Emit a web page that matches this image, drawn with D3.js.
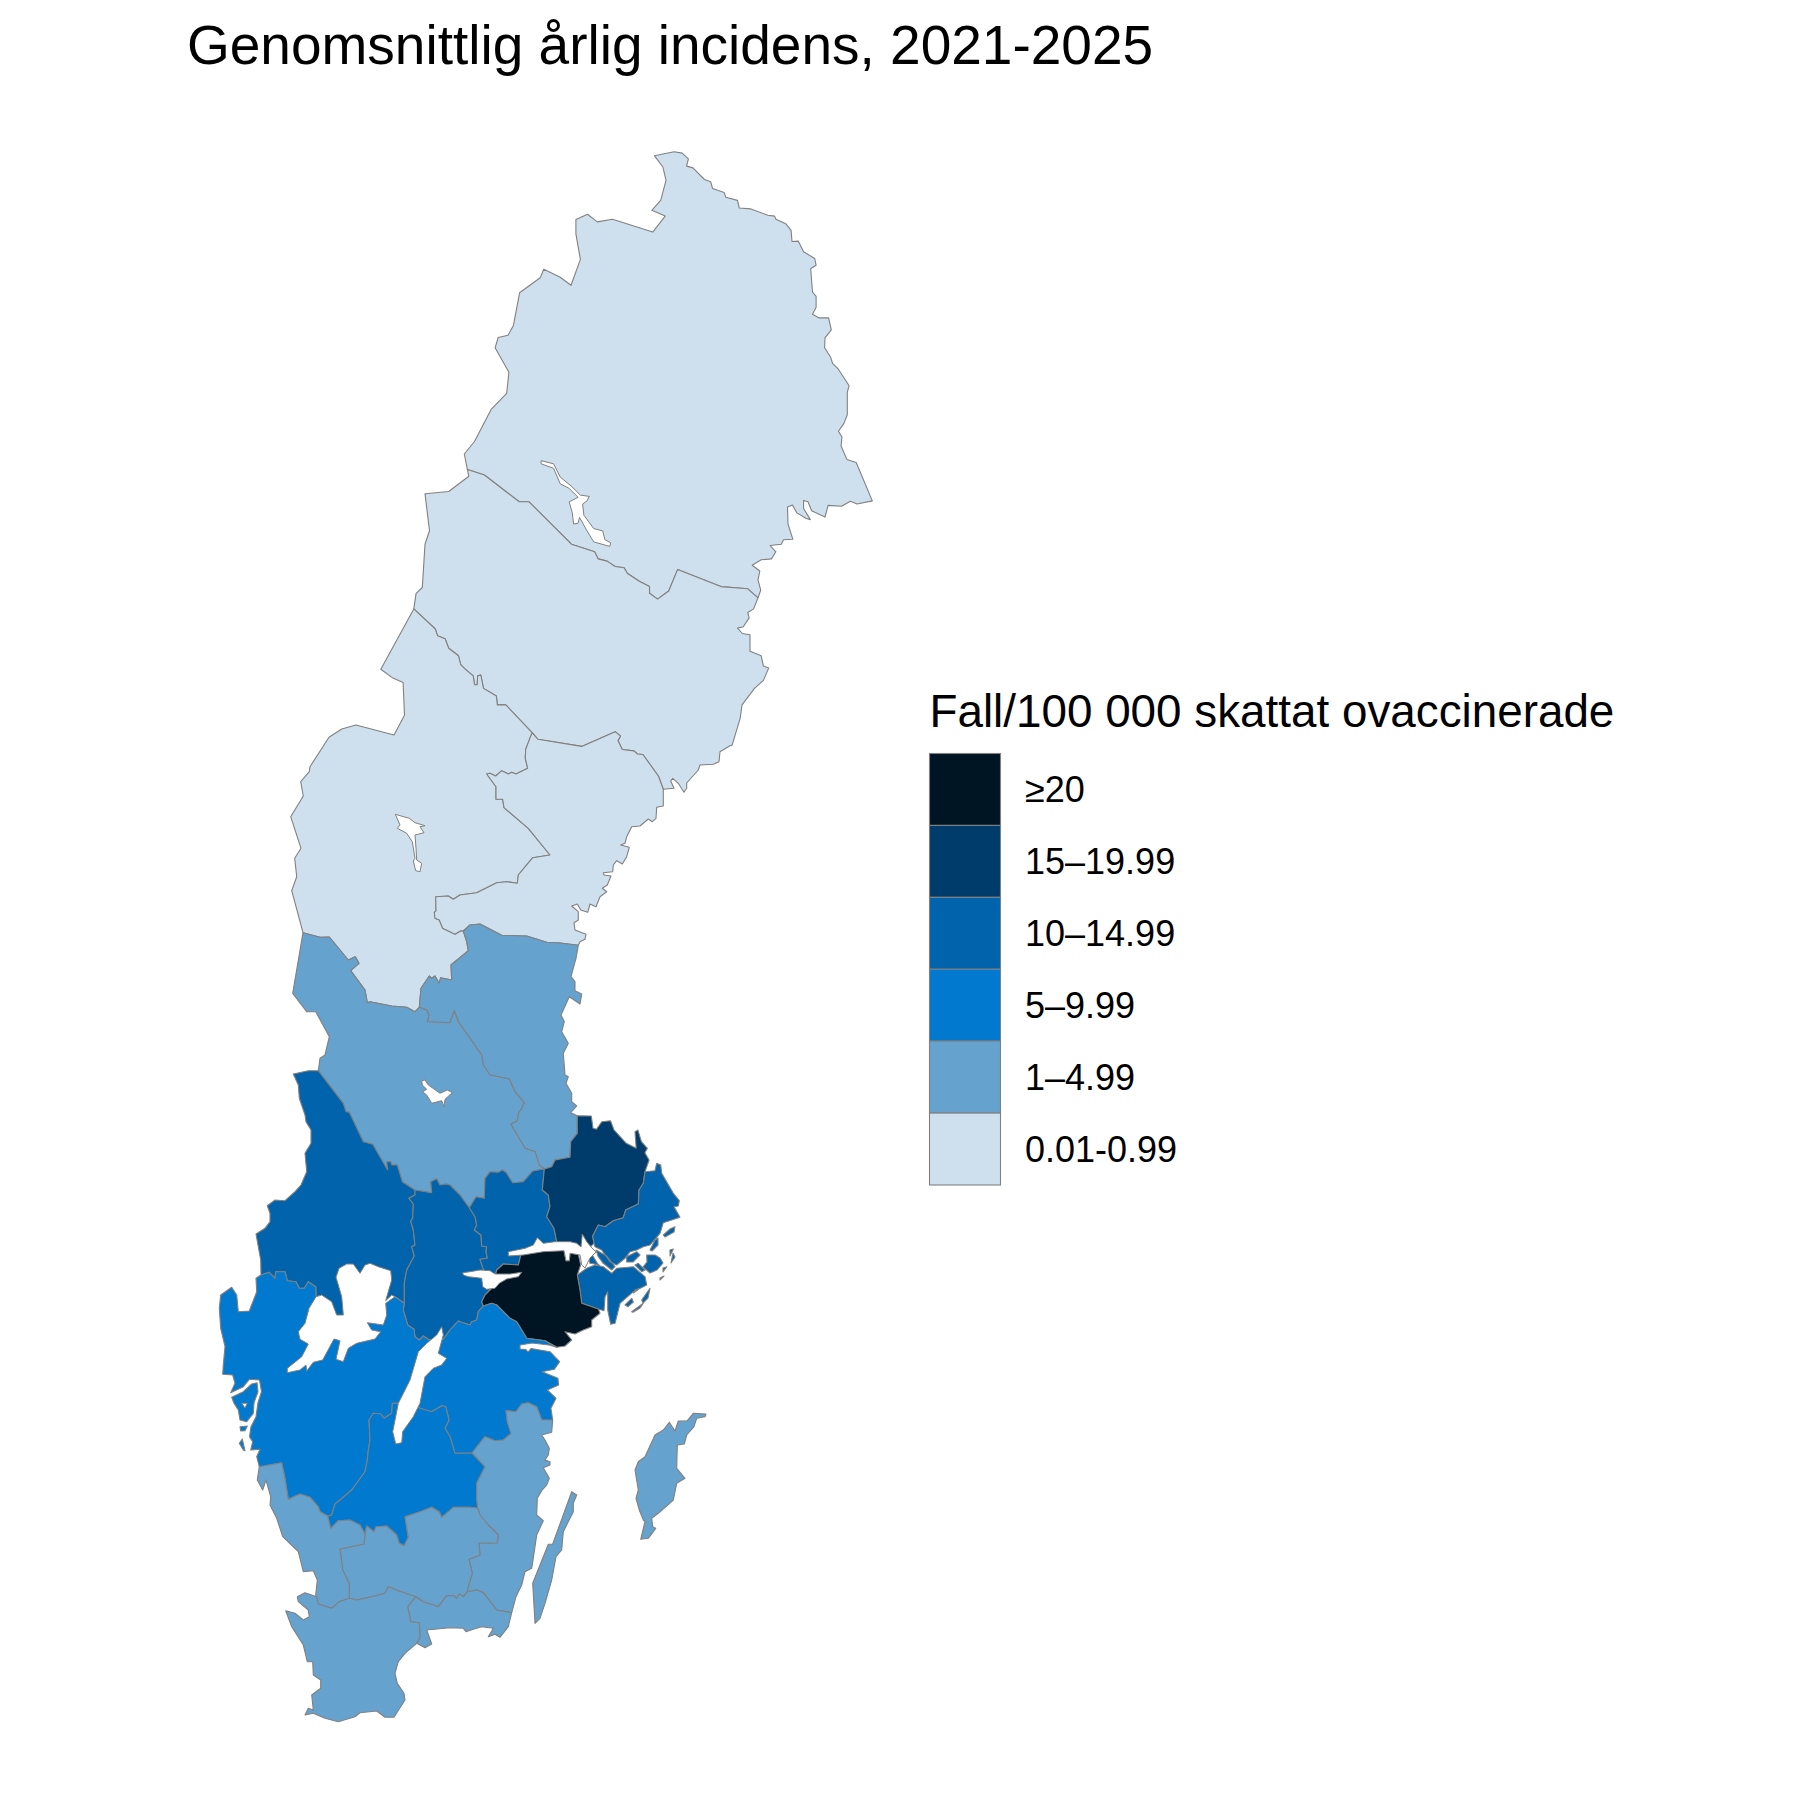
<!DOCTYPE html>
<html lang="sv">
<head>
<meta charset="utf-8">
<title>Genomsnittlig årlig incidens, 2021-2025</title>
<script src="https://cdnjs.cloudflare.com/ajax/libs/d3/7.8.5/d3.min.js"></script>
<style>
html,body{margin:0;padding:0;background:#fff}
svg{display:block}
text{font-family:"Liberation Sans",Arial,sans-serif;fill:#000}
</style>
</head>
<body>
<svg id="chart" width="1800" height="1800" viewBox="0 0 1800 1800"></svg>
<script>
// ---------- values ----------
const chartTitle = "Genomsnittlig årlig incidens, 2021-2025";
const legendTitle = "Fall/100 000 skattat ovaccinerade";
const bandLabels = ["≥20","15–19.99","10–14.99","5–9.99","1–4.99","0.01-0.99"];
const bandColours = ["#001524","#003C6B","#0063AB","#0079CF","#65A2CD","#CEE0EE"];
const regionNames = ["Norrbotten","Västerbotten","Jämtland","Västernorrland","Gävleborg","Dalarna","Värmland","Örebro","Västmanland","Uppsala","Stockholm","Södermanland","Östergötland","Västra Götaland","Jönköping","Kalmar","Kronoberg","Halland","Blekinge","Skåne","Gotland"];
const regionBands = ["0.01-0.99","0.01-0.99","0.01-0.99","0.01-0.99","1–4.99","1–4.99","10–14.99","10–14.99","10–14.99","15–19.99","10–14.99","≥20","5–9.99","5–9.99","5–9.99","1–4.99","1–4.99","1–4.99","1–4.99","1–4.99","1–4.99"];

// ---------- digitised map outlines (map units, y grows southward) ----------
const coastNorrEast = [[654.5,155.8],[674.1,151.8],[682.1,153.1],[688.4,158.9],[686.6,166.1],[692.9,167.9],[704.5,179.5],[710.7,181.7],[712.5,188.4],[724.1,192.4],[725.9,197.3],[737.5,200.4],[739.3,208],[750.9,208.9],[767.9,215.2],[774.6,216.1],[775.9,219.2],[785.7,223.7],[791.1,230.4],[792,241.5],[798.2,241.1],[803.6,251.8],[814.7,258.5],[816.1,265.2],[810.7,268.8],[812.5,292],[816.1,296.4],[816.1,307.6],[812.5,314.3],[819.2,317.9],[828.6,317.9],[831.3,329.9],[825,337.9],[824.6,347.8],[830.4,356.7],[832.6,363.4],[838.4,369.2],[849.1,385.7],[847.3,392.4],[847.3,414.7],[843.8,423.6],[838.4,431.2],[842,437],[841.1,446],[846.9,459.4],[856.2,462.5],[872.3,500.9],[857.1,504],[850.4,501.3],[841.5,506.3],[828.1,505.4],[825,517],[811.6,510.7],[808,501.8],[803.6,500.4],[803.6,508.5],[810.3,519.6],[805.8,518.3],[796.9,512.9],[792.4,504.9],[787.5,507.1],[788,524.1],[792.9,539.3],[783.5,539.7],[781.3,544.2],[770.1,545.5],[775.9,551.8],[771.4,558.9],[761.2,559.8],[752.2,565.2],[759.8,571],[758,579.9],[760.7,590.2],[758,597.8]];
const borderNbVb = [[758,597.8],[747.8,588.8],[720.9,586.6],[677.6,569.6],[668.7,591],[657.6,599.1],[649.5,593.3],[649.5,586.6],[639.3,581.2],[627.2,573.2],[624.1,567.8],[615.2,566.5],[607.1,561.1],[598.2,558.9],[594.6,551.8],[571.4,544.2],[529,501.8],[519.2,501.8],[484.4,475],[467.4,469.6]];
const westNb = [[467.4,469.6],[464.3,454],[474.5,441.5],[491.1,409.4],[506.7,393.3],[508.9,372.3],[495.1,347.8],[498.2,337.5],[508,335.3],[513.4,325.4],[519.6,292.8],[540.2,277.7],[543.8,269.2],[560.3,277.2],[571,285.3],[580.4,259.4],[575.9,233.9],[575.9,219.6],[587.5,214.3],[597.3,221.9],[612.5,219.2],[652.7,232.1],[665.2,216.1],[651.8,210.3],[660.7,200.4],[666,180.4],[662.9,167],[654.5,155.8]];
const westVb = [[467.4,469.6],[468.8,476.3],[448.7,491.5],[425,493.8],[429.5,530.8],[425,544.2],[422.3,587.5],[416.1,593.3],[413.8,608.9]];
const borderVbJl = [[413.8,608.9],[435.3,629],[437.5,635.7],[445.1,638.8],[448.7,648.2],[458.5,655.8],[460.7,664.7],[465.2,669.2],[473.2,675.9],[474.6,684.8],[477.2,684.8],[477.7,675.9],[480.8,675],[483.5,688.4],[496.4,696],[497.3,704.9],[505.8,704.9],[532.1,732.6]];
const borderVbVn = [[532.1,732.6],[538,739.3],[581.7,746.4],[615.2,731.7],[620.5,736.2],[617.9,740.6],[622.3,749.5],[633.9,750.9],[637.5,754],[642.9,754.5],[658.5,776.3],[663.3,789.3]];
const coastVb = [[663.3,789.3],[674,788.3],[670.7,781],[672.7,778.3],[678.3,783.3],[684,792.3],[686.7,788.3],[686.7,783],[698.3,770],[700,765],[713.3,764.3],[719,761.7],[720,751.7],[730,745.7],[732.1,745.1],[740.2,718.3],[742,704.9],[754.5,688.4],[763.4,680.4],[768.8,667.9],[763.4,666.1],[761.2,655.8],[750,651.3],[750,634.8],[742.4,633.5],[737.5,628.1],[743.3,626.8],[749.1,617.9],[747.8,612.5],[753.6,608.9],[758,597.8]];
const westJl = [[413.8,608.9],[380.8,669.2],[392.9,678.1],[403.1,682.6],[404.5,715.2],[394,735],[356,725],[341.7,729],[329,737.3],[310,766.7],[309.3,771.7],[300.7,781.7],[303.3,796],[290.7,816.7],[301,848.3],[294.7,858.3],[296.7,876.7],[291.7,890.7],[303,932.7]];
const borderJlDa = [[303,932.7],[320,937.3],[329.3,937],[348.3,960],[355.3,956.7],[359,963.3],[350.7,970.7],[365,990],[367.3,1002.7],[370,1001.7],[391.7,1006],[406.7,1007.3],[415,1011.7],[419.3,1007.3]];
const borderJlGb = [[419.3,1007.3],[421,988.3],[429.3,976],[431.7,978.3],[435,976],[439,983.3],[440.7,977.7],[451.7,980],[451,965],[468.3,950.7],[466.7,941.7],[463.3,931]];
const borderJlVn = [[532.1,732.6],[525.7,749.3],[525.3,758.3],[527.7,768.3],[516,774],[511.7,772.3],[508.3,774],[501.7,770.7],[495.7,776],[490,773.3],[486.7,774],[496,786.7],[496,799.3],[502.7,799.3],[504,807.7],[528.3,828.3],[550,855],[532.7,857.7],[518.3,875],[517.3,883.3],[506.7,881.7],[496.7,882.7],[476.7,892.7],[460,895],[453.3,899.3],[448.3,896],[435.7,896.7],[436,910.7],[434.3,912.3],[435,918.3],[439.3,920],[442.7,928.3],[455,934.3],[460.7,930.7],[463.3,931]];
const coastVn = [[663.3,789.3],[663.3,806],[656.7,807.3],[656,818.3],[652.3,821.7],[648.3,819],[640,826],[631.7,826.7],[626.7,836.7],[625,843.3],[620.7,845],[629.3,847.3],[626.7,856.7],[622.3,864],[616.7,860.7],[613.3,865],[612.7,871.7],[603.3,872.7],[604,875],[611,876],[607.3,885],[602.3,888.3],[606.7,891.7],[600,896.7],[596,906.7],[590,904],[587.7,912.3],[580.7,910],[577.3,904],[571.7,906],[578.3,911.7],[578.3,920],[574,922.7],[575,930],[586,934.3],[585,939.3],[580,941.7],[578.3,945.3]];
const borderVnGb = [[463.3,931],[470,925],[480,924],[501.7,935.3],[526.7,936],[546.7,942.3],[558.3,942.7],[578.3,945.3]];
const coastGb = [[578.3,945.3],[576,958.3],[571,976.7],[575,981.7],[575,990.7],[581.7,994],[580,1004],[569.3,996.7],[561,1015],[564.3,1021.7],[561.7,1031.7],[568.3,1043.3],[563.3,1053.3],[565,1075],[568.3,1076.7],[566,1083.3],[571.7,1093.3],[571.7,1101.7],[576.7,1106],[570.7,1112.7],[577.3,1115.7]];
const borderGbUp = [[577.3,1115.7],[577.3,1133.3],[570.7,1141.7],[570,1157.3],[555,1160],[551.7,1166.7],[544.3,1169]];
const borderDaGb = [[419.3,1007.3],[426.7,1010],[429,1015],[427.3,1021.7],[450,1022.7],[454.3,1010.7],[458.3,1021.7],[481.7,1055],[483.3,1065],[490,1075],[509.3,1079],[515,1091.7],[524,1102.7],[521.7,1108.3],[518.3,1113.3],[517.3,1120.7],[510.7,1124],[525,1148.3],[535,1151.7],[539.3,1165],[544.3,1169]];
const westDa = [[303,932.7],[292.7,993.3],[306.7,1011.7],[315.7,1011.7],[329.3,1036.7],[325,1055],[320,1058.3],[318.3,1070.7]];
const borderDaVa = [[318.3,1070.7],[343.3,1103.3],[346,1111.7],[349.3,1112.3],[363.3,1141.7],[372.7,1144.3],[387.7,1170],[386.7,1161.7],[390.7,1161.7],[391.7,1165],[397.3,1165],[402.3,1181.7],[415,1190]];
const borderDaOr = [[415,1190],[431.7,1192.7],[430.7,1181.7],[436.7,1178.7],[440,1185],[446,1184],[450,1185],[460,1195],[469.3,1207.7]];
const borderDaVs = [[469.3,1207.7],[476,1196.7],[484.3,1198.3],[485,1178.3],[490,1171.7],[498.3,1172.3],[502.3,1170],[506,1172.3],[512.7,1182.7],[523.3,1181.7],[532.7,1171],[544.3,1169]];
const westVa = [[318.3,1070.7],[308.3,1070.7],[293.3,1074],[298.3,1085],[299.3,1098.3],[305,1115],[306,1121.7],[311,1130],[311,1143.3],[305,1153.3],[306.7,1171.7],[301,1185],[295,1191.7],[285,1200.7],[275,1200],[267.3,1205.7],[270,1213.3],[270,1221.7],[265,1228.3],[256,1234],[260.7,1260],[261,1275]];
const borderVaVg = [[261,1275],[269.3,1272.3],[275,1278.3],[275.7,1271.7],[285,1271.7],[287.3,1280.7],[296,1281.7],[299.3,1288.3],[304.3,1288.3],[308.3,1281.7],[315.7,1286.7],[316,1296.7],[325,1310],[340,1320],[370,1310],[388,1300],[395,1296.7],[404.3,1303.3]];
const borderVaOr = [[415,1190],[415,1195],[409,1198.3],[413.3,1204],[412.7,1218.3],[410.7,1221],[413.3,1230],[415,1245],[411.7,1246.7],[414.3,1256],[406.7,1270],[404.3,1283.3],[404.3,1303.3]];
const borderOrVs = [[469.3,1207.7],[475,1216.7],[476.7,1225],[474.3,1230],[481,1235],[481.7,1246],[486.7,1246.7],[486,1251.7],[487.3,1258.3],[480,1259.3],[483.3,1269.3],[490,1280]];
const borderOrSo = [[490,1280],[491,1289],[485,1295],[481.7,1301.7],[483.3,1306]];
const borderOrVg = [[404.3,1303.3],[403.3,1310],[407.7,1325],[414,1329.3],[415,1336.7],[419.3,1340],[423.3,1336],[428.3,1339.3],[431,1340]];
const borderOrOs = [[431,1340],[443.3,1339.3],[450,1330],[458.3,1321],[460,1321.7],[470,1325],[471.7,1321.7],[476.7,1320],[478.3,1311.7],[483.3,1306]];
const borderVgOs = [[431,1340],[420,1370],[410,1400]];
const borderVgJk = [[410,1400],[398.3,1403.3],[392.3,1403.3],[391.7,1413.3],[384,1418.3],[380.7,1414],[373.3,1413.3],[369,1420],[370,1440],[368.3,1450],[367.3,1460],[365,1471.7],[351.7,1490],[340,1500],[335,1504],[331.7,1515],[327.7,1516]];
const borderVgHa = [[327.7,1516],[320,1511.7],[318.3,1506.7],[310,1497.3],[300,1494],[288.3,1499.3],[285,1478.3],[281.7,1462.7],[259.3,1466.7]];
const coastVg = [[259.3,1466.7],[256.7,1456.7],[260,1449.3],[250.7,1450],[252.7,1441.7],[249.5,1436.7],[251,1426.7],[256,1416.7],[258,1402.7],[261.5,1391.7],[259.5,1380],[249.3,1379.3],[243.3,1386.7],[230.7,1392.7],[235,1383.3],[232.7,1375],[222.7,1374.3],[223.3,1365],[225,1346.7],[220.7,1328.3],[219.3,1308.3],[220.7,1295],[231.7,1287.3],[236.7,1295],[238.3,1311.7],[249.3,1311],[256.7,1291.7],[256,1278.3],[261,1275]];
const orust = [[231.7,1397.3],[243.3,1391.7],[251.7,1384],[257,1382.7],[258,1391.7],[254,1402.7],[253.3,1413.3],[246.7,1421.7],[240,1420],[238.3,1410],[234,1403.3]];
const tjorn = [[240,1426.7],[247.3,1426],[245,1430.7],[240.7,1431]];
const skerry = [[239.3,1443.3],[242.3,1439],[245,1450.7],[243.3,1450]];
const borderOsJk = [[410,1400],[420,1408.3],[431.7,1411.7],[441.7,1405.7],[445.7,1406.7],[449,1420],[445,1428.3],[450,1436.7],[455,1453.3],[472,1453]];
const borderOsKa = [[472,1453],[481.7,1440.7],[485,1436.7],[495,1440.7],[503.3,1440],[511,1433.3],[507.3,1421.7],[506,1410.7],[516,1411.7],[521.7,1404],[528.3,1402.7],[536.7,1406.7],[541.7,1420],[552.7,1420]];
const borderOsSo = [[483.3,1306],[491.7,1303.3],[496.7,1305],[510,1318.3],[516.7,1321.7],[526.7,1338.3],[545,1340.7],[556.7,1347.3]];
const coastOs = [[556.7,1347.3],[549,1345],[532,1343],[520,1345],[520,1349],[526,1349.5],[528,1352],[531,1348.5],[550,1351.7],[559.6,1361.7],[554.4,1369.3],[542.1,1371.7],[557.9,1378.3],[558.6,1385],[547.4,1390],[556.1,1398.3],[550.9,1408.3],[552.7,1420]];
const coastSo = [[556.7,1347.3],[565,1346],[571.7,1340],[565,1331.7],[575,1334],[583.3,1330],[591.7,1326.7],[591.7,1320],[600,1313.3],[598.3,1309]];
const borderSoSt = [[598.3,1309],[581.7,1303.3],[580,1290],[577.3,1275]];
const shoreSo = [[577.3,1275],[580.7,1265],[578.3,1254],[570,1253.3],[569.3,1260.7],[566,1260.7],[564,1250.7],[557,1246]];
const borderVsSo = [[490,1280],[495,1276],[496.7,1270],[503.3,1264],[518.3,1265],[520,1258.3],[521,1254],[540,1249],[557,1246]];
const borderVsUp = [[544.3,1169],[542.3,1190],[548.3,1195],[550,1206.7],[546.7,1216.7],[554,1228.3],[556.7,1241.7],[557,1246]];
const coastUp = [[577.3,1115.7],[591.3,1116],[593,1128.3],[596.5,1129.3],[601.8,1121.7],[610.5,1120.7],[614,1130],[626.3,1143.3],[636.2,1148.3],[635,1131.7],[637.9,1130],[641.4,1141.7],[647.4,1148.3],[644.9,1152.7],[649.1,1160],[645,1171.7]];
const borderUpSt = [[645,1171.7],[643.3,1183.3],[639,1190],[638.3,1204],[625.7,1210],[623.3,1217.7],[613.3,1220.7],[605,1226.7],[598.3,1225],[592.7,1236],[594,1243.3]];
const shoreUp = [[594,1243.3],[590,1247],[575,1247],[557,1246]];
const coastStN = [[645,1171.7],[655,1170.7],[656.7,1163.3],[660.7,1165],[661.7,1173.3],[673.3,1193.3],[679.3,1200.7],[678.3,1206],[674,1206.7],[680,1217.3],[663.3,1222.7],[660,1233.3],[650,1245],[643.3,1246.7],[636.7,1250],[630,1251.7],[625,1258.3],[616.7,1265],[610,1261.7],[601.7,1250],[595,1246.7],[594,1243.3]];
const coastStS = [[598.3,1309],[604,1310.7],[605,1296.7],[607.7,1291.7],[607.7,1310],[610.7,1324.3],[615,1323.3],[620,1303.3],[633.3,1291.7],[646.7,1285],[645,1276.7],[633.3,1266.7],[616.7,1268.3],[611.7,1273.3],[603.3,1266.7],[595,1265],[586.7,1268.3],[577.3,1275]];
const stockholmIsles = [
  [[663.3,1235],[670,1229],[675,1226.7],[674,1232],[665,1237]],
  [[650,1250],[655,1240],[658,1238],[658,1245],[652,1251]],
  [[646.7,1255],[655,1255],[660,1258],[663,1263],[657,1270],[650,1273],[643,1267],[647,1262]],
  [[626.7,1256.7],[636.7,1251.7],[640,1255],[633,1262],[626.7,1262]],
  [[638.3,1263.3],[645,1270],[641.7,1271.7],[635,1265]],
  [[670,1250],[673.3,1249],[670,1256]],
  [[673,1253],[675,1257],[671,1263]],
  [[663,1268],[666.7,1266.7],[663,1272]],
  [[660,1278],[664,1276],[660,1280]],
  [[635,1290],[640,1288.3],[633.3,1293]],
  [[641.7,1300],[650,1288.3],[648,1298],[643,1303]],
  [[625,1305],[631.7,1298.3],[633.3,1302],[628,1306.7]],
  [[631.7,1311.7],[643.3,1303.3],[640,1308],[633,1312.3]],
  [[588.3,1256.7],[591.7,1254],[597.3,1263.3],[600,1266],[595,1264],[590,1263.3]],
  [[596,1250],[606.7,1256],[615,1266.7],[611.7,1270],[603.3,1263.3],[598.3,1256.7]]
];
const borderJkKa = [[472,1453],[485,1466.7],[476.7,1483.3],[476.7,1498.3],[477.7,1508.3]];
const borderJkKr = [[477.7,1508.3],[470,1507.3],[453.3,1507.3],[441.7,1517.3],[439.3,1511.7],[431.7,1507.3],[420,1511.7],[405,1516.7],[408.3,1537.3],[404,1545.7],[399.3,1543.3],[396.7,1535],[386.7,1526],[376,1526.7],[374,1531.7],[366.7,1526],[365,1534]];
const borderJkHa = [[365,1534],[360,1525],[350,1520],[338.3,1520.7],[330.7,1528.3],[327.7,1516]];
const borderKaKr = [[477.7,1508.3],[480,1515],[488.3,1525],[498.3,1535],[497.3,1542.7],[479,1543.3],[480,1555],[469,1559.3],[472.3,1573.3],[468.3,1586.7],[467.3,1591.7]];
const coastKa = [[552.7,1420],[551.7,1432.3],[541.7,1435],[545,1440],[549.3,1448.3],[548.3,1455],[545,1460],[550,1461.7],[550,1465],[543.3,1467.7],[549.3,1478.3],[546.7,1485],[541.7,1490.7],[537.3,1498.3],[536.7,1515],[543.3,1520.7],[536.7,1535],[534,1553.3],[531.7,1568.3],[525,1571.7],[521.7,1585],[516,1596.7],[511.7,1612.7]];
const oland = [[535,1623.3],[532.7,1583.3],[548.3,1544.3],[552.7,1544],[571.7,1491.7],[576.7,1495],[573.3,1503.3],[573.3,1511.7],[563.3,1531.7],[561.7,1550],[556,1556.7],[551.7,1580],[545,1603.3],[540,1618.3]];
const borderBlKa = [[467.3,1591.7],[477.3,1590],[483.3,1592.7],[496.7,1610],[511.7,1612.7]];
const borderKrBl = [[415.7,1596.7],[423.3,1601.7],[438.3,1606.7],[446.7,1595.7],[454,1595.7],[456.7,1598.3],[459.3,1594],[463.3,1596.7],[467.3,1591.7]];
const borderKrSk = [[415.7,1596.7],[398.3,1590.7],[388.3,1586.7],[385,1593.3],[375,1596],[356.7,1600],[349.3,1598.3]];
const borderHaKr = [[365,1534],[364,1544],[340,1549],[342.7,1570],[349.3,1583.3],[349.3,1598.3]];
const coastHa = [[259.3,1466.7],[257.3,1480],[262.7,1490],[266,1480],[270.7,1496.7],[270,1505],[276.7,1518.3],[282.7,1536.7],[298.3,1551.7],[303.3,1571.7],[313.3,1570.7],[317.3,1580],[315.7,1595],[316.7,1596.7]];
const borderHaSk = [[316.7,1596.7],[318.3,1604],[331.7,1608.3],[339.3,1601.7],[349.3,1598.3]];
const coastSk = [[316.7,1596.7],[305,1592.7],[297.3,1596.7],[298.3,1601.7],[308.3,1610],[309.3,1616.7],[303.3,1620],[295,1613.3],[285.7,1610.7],[291.7,1626.7],[303.3,1645],[307.3,1661.7],[312.7,1661.7],[313.3,1675],[320.7,1680],[320.7,1688.3],[311.7,1695],[313.3,1710],[308.3,1708.3],[305,1715],[313.3,1713.3],[325,1718.3],[338.3,1721.7],[355,1716.7],[360,1712.7],[376.7,1711],[385,1717.3],[394,1717.3],[405,1700],[404,1693.3],[397.3,1683.3],[395,1673.3],[398.3,1661.7],[405,1653.3],[416.7,1643.3]];
const borderSkBl = [[416.7,1643.3],[420,1637.3],[419.3,1622.7],[410.7,1621.7],[407.7,1606.7],[415.7,1596.7]];
const coastBl = [[511.7,1612.7],[508.3,1626.7],[500,1637.3],[495,1634.3],[488.3,1636.7],[493.3,1628.3],[481.7,1626.7],[473.3,1629.3],[466,1631.7],[463.3,1628.3],[450,1627.7],[426.7,1630],[431.7,1644],[425,1647.7],[416.7,1643.3]];
const gotland = [[640.7,1539.3],[645,1521.7],[643.3,1520],[639.3,1510],[636,1498.3],[638.3,1490],[635,1470],[638.3,1461.7],[645,1456.7],[655,1435],[663.3,1430],[669.3,1422.3],[675,1431],[678.3,1421],[687.3,1420.7],[693.3,1413.3],[706,1414],[705,1416.7],[696.7,1418.3],[694,1426.7],[686.7,1435],[684.3,1444],[677.3,1445],[676.7,1468.3],[685,1478.3],[676.7,1483.3],[673.3,1500],[658.3,1513.3],[651.7,1518.3],[652.7,1526.7],[655.7,1528.3],[648.3,1538.3]];

// lakes
const lakeHornavan = [[541.1,460.7],[553.6,463.8],[560.3,477.2],[571.4,486.2],[580.4,495.1],[589.3,496.4],[587,500.9],[582.6,504],[583.9,515.2],[593.7,528.6],[602.7,530.8],[604.9,539.7],[610.7,542.8],[609.8,546.4],[593.7,541.9],[587,530.8],[579.5,517.4],[578.1,523.2],[573.6,524.1],[572.3,512.9],[569.2,501.8],[578.1,497.3],[569.2,488.4],[560.3,483.9],[553.6,468.3],[541.1,463.8]];
const lakeStorsjon = [[395.3,814.3],[409.3,818.3],[415,822.7],[425,825.7],[420,826.7],[424,832.7],[415,835],[416,848.3],[416.7,860],[421.7,863.3],[420,871.7],[415.7,870.7],[413.3,861],[415,858.3],[412.3,841.7],[406.7,833.3],[397.3,828.3],[400,825]];
const lakeSiljan = [[421.7,1080.7],[425,1080],[428.3,1085],[440,1093.3],[447.3,1090],[452.3,1092.7],[445,1099.3],[444,1106.7],[441.7,1100.7],[431.7,1103.3],[426.7,1095],[422.7,1091.7],[426.7,1089.3],[422.3,1085]];
const lakeVanern = [[316,1296.7],[309,1308.3],[305,1323.3],[298.3,1331.7],[300,1339.3],[308.3,1344],[301.7,1356.7],[287.3,1368.3],[287.3,1372.7],[300,1370],[306,1365],[306.7,1371],[313.3,1362.3],[322.7,1360],[334,1339],[340,1340.7],[336,1359.3],[343.3,1361.7],[348.3,1348.3],[356.7,1343.3],[375,1339],[380.7,1331.7],[371.7,1330],[367.3,1322.7],[383.3,1325],[386.7,1315],[385.7,1303.3],[395,1296.7],[391.7,1295],[385.7,1300.7],[391.7,1280],[390.7,1270.7],[378.3,1266.7],[370,1263.3],[365,1265],[360,1273.3],[353.3,1264],[346.7,1264],[339,1268.3],[336,1277.3],[341.7,1296.7],[343.3,1315],[336.7,1315],[331.7,1301.7],[321.7,1295]];
const lakeVattern = [[441.7,1326.7],[443.3,1335],[438.3,1353.3],[446.7,1358.3],[441.7,1365],[433.3,1368.3],[425,1376.7],[420,1403.3],[413.3,1416.7],[402.7,1431.7],[401.7,1442.7],[395.7,1444],[392.7,1431.7],[398.3,1403.3],[410,1380],[418.3,1351.7],[426.7,1343.3],[436.7,1335]];
const lakeHjalmaren = [[462.7,1272.7],[470,1271.7],[480,1270],[490,1270.7],[495,1274],[510,1274],[521.7,1272.3],[518.3,1276.7],[506.7,1279],[499.3,1283.3],[495,1288.3],[486.7,1289.3],[482.7,1286.7],[481.7,1278.3],[468.3,1276.7],[463.3,1275]];
const lakeMalaren = [[508.3,1251.7],[525,1248.3],[533.3,1245],[537.3,1237.7],[543.3,1243.3],[555,1241.7],[570,1241.7],[576.7,1243.3],[581,1247],[582.3,1234],[586.7,1241.7],[592,1248],[596,1252],[590,1258],[585,1268],[581.7,1265],[580,1255],[570,1253.3],[569.3,1260.7],[566,1260.7],[564,1250.7],[543.3,1251.7],[523.3,1255],[508.3,1256]];
const orustPond = [[241.7,1403.3],[247.3,1403.3],[245,1408]];
const lakes = [lakeHornavan,lakeStorsjon,lakeSiljan,lakeVanern,lakeVattern,lakeHjalmaren,lakeMalaren,orustPond];

// ---------- assembling regions from shared borders ----------
const rev = a => a.slice().reverse();
const chain = (...arcs) => arcs.flatMap((a,i)=> i ? a.slice(1) : a);
const close = ring => { const f=ring[0], l=ring[ring.length-1]; return (f[0]===l[0]&&f[1]===l[1]) ? ring : ring.concat([f]); };
const regionRings = [
  [chain(coastNorrEast,borderNbVb,westNb)],
  [chain(westVb,borderVbJl,borderVbVn,coastVb,borderNbVb)],
  [chain(westJl,borderJlDa,borderJlGb,rev(borderJlVn),rev(borderVbJl))],
  [chain(borderVbVn,coastVn,rev(borderVnGb),rev(borderJlVn))],
  [chain(borderVnGb,coastGb,borderGbUp,rev(borderDaGb),borderJlGb)],
  [chain(borderJlDa,borderDaGb,rev(borderDaVs),rev(borderDaOr),rev(borderDaVa),rev(westDa))],
  [chain(westVa,borderVaVg,rev(borderVaOr),rev(borderDaVa))],
  [chain(borderDaOr,borderOrVs,borderOrSo,rev(borderOrOs),rev(borderOrVg),rev(borderVaOr))],
  [chain(borderDaVs,borderVsUp,rev(borderVsSo),rev(borderOrVs))],
  [chain(rev(borderGbUp),coastUp,borderUpSt,shoreUp,rev(borderVsUp))],
  [chain(coastStN,rev(borderUpSt)),chain(coastStS,rev(borderSoSt)),...stockholmIsles],
  [chain(borderOrSo,borderOsSo,coastSo,borderSoSt,shoreSo,rev(borderVsSo))],
  [chain(borderOrOs,borderOsSo,coastOs,rev(borderOsKa),rev(borderOsJk),rev(borderVgOs))],
  [chain(borderVaVg,borderOrVg,borderVgOs,borderVgJk,borderVgHa,coastVg),orust,tjorn,skerry],
  [chain(borderOsJk,borderJkKa,borderJkKr,borderJkHa,rev(borderVgJk))],
  [chain(borderOsKa,coastKa,rev(borderBlKa),rev(borderKaKr),rev(borderJkKa)),oland],
  [chain(borderJkKr,borderHaKr,rev(borderKrSk),borderKrBl,rev(borderKaKr))],
  [chain(borderVgHa,coastHa,borderHaSk,rev(borderHaKr),borderJkHa)],
  [chain(borderKrBl,borderBlKa,coastBl,borderSkBl)],
  [chain(coastSk,borderSkBl,borderKrSk,rev(borderHaSk))],
  [gotland]
];
const regions = {type:"FeatureCollection",features:regionNames.map((name,i)=>({
  type:"Feature",properties:{name,band:regionBands[i]},
  geometry:{type:"MultiPolygon",coordinates:regionRings[i].map(r=>[close(r)])}
}))};
const lakeFeatures = {type:"MultiPolygon",coordinates:lakes.map(r=>[close(r)])};

// ---------- layout ----------
const W=1800,H=1800;
const mapExtent=[[219.3,151.8],[872.3,1721.7]];
const legendBox={x:929.5,w:71,top:753.5,bottom:1185,labelX:1025,titleY:727};
const borderColour="#808080";

const svg=d3.select("#chart");
svg.append("rect").attr("width",W).attr("height",H).attr("fill","#fff");
const projection=d3.geoIdentity().fitExtent(mapExtent,regions);
const path=d3.geoPath(projection);
const colour=d3.scaleOrdinal(bandLabels,bandColours);

svg.append("g").selectAll("path").data(regions.features).join("path")
  .attr("d",path).attr("fill",d=>colour(d.properties.band))
  .attr("stroke",borderColour).attr("stroke-width",1.1).attr("stroke-linejoin","round");
svg.append("path").datum(lakeFeatures).attr("d",path)
  .attr("fill","#fff").attr("stroke",borderColour).attr("stroke-width",1).attr("stroke-linejoin","round");

svg.append("text").attr("x",187).attr("y",64).attr("font-size",55).text(chartTitle);

const yLegend=d3.scaleBand().domain(bandLabels).range([legendBox.top,legendBox.bottom]);
const legend=svg.append("g");
legend.append("text").attr("x",legendBox.x).attr("y",legendBox.titleY).attr("font-size",45.8).text(legendTitle);
const item=legend.selectAll("g").data(bandLabels).join("g");
item.append("rect").attr("x",legendBox.x).attr("y",d=>yLegend(d)).attr("width",legendBox.w).attr("height",yLegend.bandwidth())
  .attr("fill",d=>colour(d)).attr("stroke",borderColour).attr("stroke-width",1.1);
item.append("text").attr("x",legendBox.labelX).attr("y",d=>yLegend(d)+yLegend.bandwidth()/2)
  .attr("dy","0.36em").attr("font-size",36).text(d=>d);
</script>
</body>
</html>
